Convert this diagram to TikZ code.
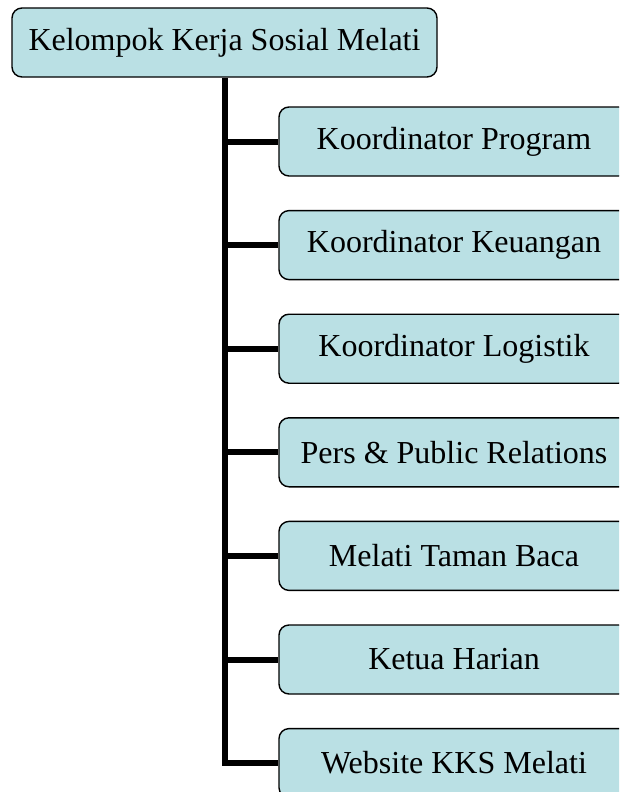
\documentclass[tikz,border=0pt]{standalone}
\usepackage{fontspec}
\setmainfont{Liberation Serif}
\definecolor{boxblue}{RGB}{186,224,228}

\begin{document}
\begin{tikzpicture}[x=1pt, y=1pt, every node/.style={align=center},
    unitbox/.style={draw=black, line width=1.4pt, fill=boxblue, rounded corners=10pt,
      minimum height=69pt, inner sep=0pt, font=\fontsize{32}{38}\selectfont},
    childbox/.style={unitbox, minimum width=350pt},
    branch/.style={line width=6pt}]
    \useasboundingbox (0,0) rectangle (619,-792);
    \clip (0,0) rectangle (619,-792);
    \node[unitbox, minimum width=425pt] (kks) at (224.5,-42.5) {Kelompok Kerja Sosial Melati};
    \node[childbox] (program) at (454,-141.5) {Koordinator Program};
    \node[childbox] (keuangan) at (454,-245.1) {Koordinator Keuangan};
    \node[childbox] (logistik) at (454,-348.7) {Koordinator Logistik};
    \node[childbox] (pers) at (454,-452.3) {Pers \& Public Relations};
    \node[childbox] (tamanbaca) at (454,-555.9) {Melati Taman Baca};
    \node[childbox] (ketua) at (454,-659.5) {Ketua Harian};
    \node[childbox] (website) at (454,-763.1) {Website KKS Melati};
    % garis struktur
    \draw[branch] (kks.south) |- (website.west);
    \draw[branch] (kks.south |- program.west) -- (program.west);
    \draw[branch] (kks.south |- keuangan.west) -- (keuangan.west);
    \draw[branch] (kks.south |- logistik.west) -- (logistik.west);
    \draw[branch] (kks.south |- pers.west) -- (pers.west);
    \draw[branch] (kks.south |- tamanbaca.west) -- (tamanbaca.west);
    \draw[branch] (kks.south |- ketua.west) -- (ketua.west);
\end{tikzpicture}
\end{document}
